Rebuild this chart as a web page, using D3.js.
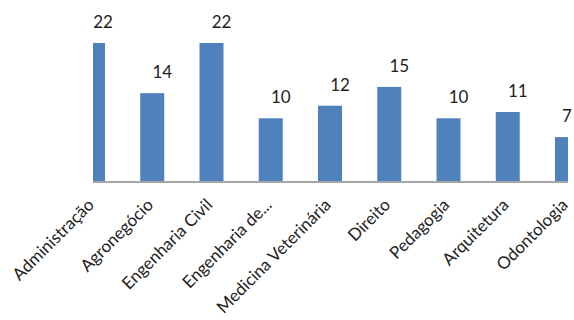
<!DOCTYPE html>
<html>
<head>
<meta charset="utf-8">
<script src="https://cdn.jsdelivr.net/npm/d3@7"></script>
<style>
  body { margin: 0; background: #fff; }
  text { font-family: Lato, "Open Sans", sans-serif; fill: #222; }
</style>
</head>
<body>
<div class="container"></div>
<script>
const courses = ['Administração', 'Agronegócio', 'Engenharia Civil', 'Engenharia de...', 'Medicina Veterinária', 'Direito', 'Pedagogia', 'Arquitetura', 'Odontologia']
const counts = [22, 14, 22, 10, 12, 15, 10, 11, 7]

const width = 574
const height = 320
const axisY = 181
const left = 93
const right = 567

const svg = d3.select('.container')
  .append('svg')
  .attr('width', width)
  .attr('height', height)

svg.append('clipPath')
  .attr('id', 'plot-clip')
  .append('rect')
  .attr('x', left)
  .attr('y', 0)
  .attr('width', right + 1 - left)
  .attr('height', axisY)

const xScale = d3.scalePoint()
  .domain(courses)
  .range([left, right])

const yScale = d3.scaleLinear()
  .domain([0, 22])
  .range([axisY, 43])

const barWidth = 24
const data = courses.map((c, i) => ({ course: c, count: counts[i] }))

svg.append('g')
  .attr('clip-path', 'url(#plot-clip)')
  .selectAll('rect')
  .data(data)
  .enter()
  .append('rect')
  .attr('x', (d) => xScale(d.course) - barWidth / 2)
  .attr('y', (d) => yScale(d.count))
  .attr('width', barWidth)
  .attr('height', (d) => axisY - yScale(d.count))
  .attr('fill', '#4f81bd')

svg.append('line')
  .attr('x1', left)
  .attr('x2', right + 1)
  .attr('y1', axisY + 1)
  .attr('y2', axisY + 1)
  .attr('stroke', '#a6a6a6')
  .attr('stroke-width', 2)

// value labels
svg.append('g')
  .selectAll('text')
  .data(data)
  .enter()
  .append('text')
  .attr('x', (d) => Math.min(xScale(d.course) + 10, width - 7))
  .attr('y', (d) => yScale(d.count) - 15)
  .attr('text-anchor', 'middle')
  .attr('font-size', '17px')
  .text((d) => d.count)

// category labels
svg.append('g')
  .selectAll('text')
  .data(courses)
  .enter()
  .append('text')
  .attr('transform', (d) => `translate(${xScale(d) + 2}, ${axisY + 25}) rotate(-45)`)
  .attr('text-anchor', 'end')
  .attr('font-size', '17px')
  .text((d) => d)
</script>
</body>
</html>
